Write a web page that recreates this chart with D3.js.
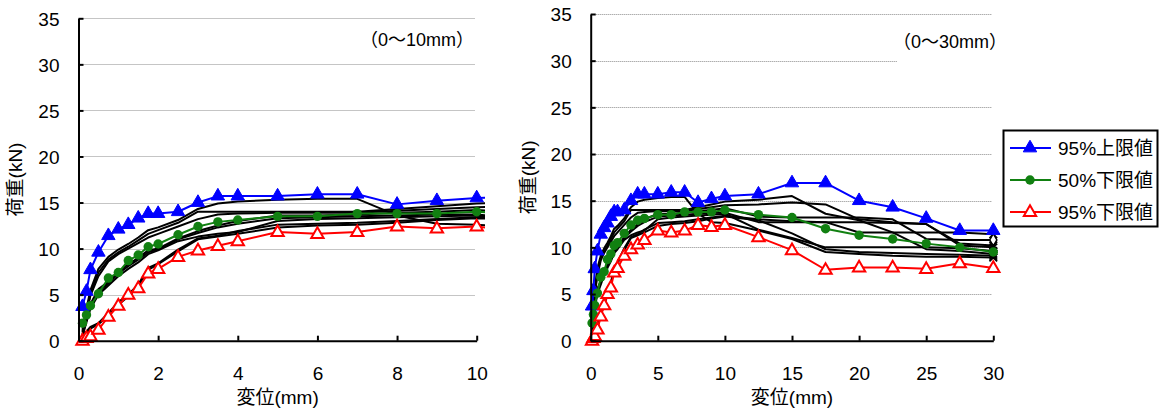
<!DOCTYPE html>
<html>
<head>
<meta charset="utf-8">
<script src="https://cdn.jsdelivr.net/npm/d3@7"></script>
<style>
  html, body { margin: 0; padding: 0; background: #fff; }
  svg { display: block; }
  text { font-family: "Liberation Sans", Arial, "Noto Sans CJK JP", sans-serif; fill: #000; }
  .cjk { font-family: "Liberation Sans", "Noto Sans CJK JP", sans-serif; }
</style>
</head>
<body>
<svg id="chart" width="1160" height="410"></svg>
<script>
// ---------------- data ----------------
const disp = [0.1, 0.2, 0.3, 0.5, 0.75, 1, 1.25, 1.5, 1.75, 2, 2.5, 3, 3.5, 4, 5, 6, 7, 8, 9, 10, 12.5, 15, 17.5, 20, 22.5, 25, 27.5, 30];

const upper95 = [3.7, 5.35, 7.7, 9.6, 11.4, 12.1, 12.6, 13.3, 13.8, 13.8, 14.0, 15.0, 15.7, 15.7, 15.7, 15.9, 15.9, 14.8, 15.2, 15.5, 15.7, 16.9, 16.9, 15.0, 14.3, 13.1, 11.8, 11.8];
const lower50 = [1.9, 2.8, 3.8, 5.1, 6.8, 7.4, 8.7, 9.3, 10.2, 10.5, 11.5, 12.4, 12.9, 13.1, 13.5, 13.5, 13.8, 13.8, 13.8, 14.0, 13.5, 13.2, 12.0, 11.3, 10.9, 10.4, 10.0, 9.5];
const lower95 = [0, 0.3, 0.5, 1.2, 2.6, 3.8, 5.0, 5.7, 7.3, 7.8, 9.1, 9.8, 10.3, 10.8, 11.8, 11.6, 11.8, 12.4, 12.2, 12.4, 11.1, 9.7, 7.6, 7.85, 7.85, 7.7, 8.3, 7.8];

const spec1 = [1.2, 3.5, 5.5, 7.8, 9.1, 9.9, 10.5, 11.2, 12.0, 12.3, 13.1, 14.3, 14.9, 15.1, 15.3, 15.4, 15.4, 13.6, 12.7, 12.6, 11.8, 10.9, 9.5, 9.3, 9.1, 9.0, 9.0, 8.9];
const spec2 = [1.0, 3.1, 5.1, 7.4, 8.8, 9.6, 10.2, 10.9, 11.6, 12.0, 12.8, 14.0, 14.0, 14.0, 14.0, 14.0, 14.0, 14.3, 14.6, 14.9, 15.1, 15.5, 13.6, 12.9, 11.6, 11.6, 11.6, 11.4];
const spec3 = [0.9, 2.9, 4.9, 7.0, 8.6, 9.4, 10.0, 10.6, 11.2, 11.6, 12.4, 13.2, 13.7, 13.8, 13.9, 13.9, 13.9, 14.1, 14.3, 14.5, 14.6, 14.8, 14.6, 13.0, 12.7, 12.5, 10.2, 10.0];
const spec4 = [0.7, 2.5, 4.0, 5.6, 6.4, 7.5, 8.3, 9.0, 9.8, 10.0, 11.1, 11.9, 12.5, 13.0, 13.6, 13.6, 13.7, 13.9, 14.0, 14.2, 13.3, 13.2, 13.2, 13.2, 13.0, 10.9, 10.8, 10.8];
const spec5 = [0.6, 2.2, 3.7, 5.3, 6.2, 7.3, 8.1, 8.8, 9.6, 9.9, 11.0, 11.7, 12.3, 12.7, 13.3, 13.4, 13.5, 13.6, 13.7, 13.7, 12.7, 12.7, 12.7, 12.7, 12.6, 12.5, 10.4, 10.2];
const spec6 = [0.5, 2.0, 3.5, 5.0, 6.0, 7.0, 7.8, 8.5, 9.4, 9.8, 10.8, 11.3, 11.6, 11.8, 13.0, 13.2, 13.3, 13.4, 13.5, 13.6, 11.9, 11.0, 10.0, 10.0, 10.0, 10.0, 9.9, 9.6];
const spec7 = [0.6, 1.0, 1.5, 1.9, 3.0, 4.2, 5.0, 6.1, 7.9, 8.4, 9.9, 11.1, 11.4, 11.9, 12.6, 12.7, 12.8, 13.0, 13.2, 13.4, 13.0, 12.8, 12.7, 11.6, 11.6, 9.8, 9.6, 9.3];
const spec8 = [0.3, 0.8, 1.3, 1.8, 2.7, 3.9, 4.8, 5.9, 7.7, 8.3, 9.7, 11.0, 11.3, 11.6, 12.3, 12.5, 12.6, 12.8, 13.1, 13.3, 12.9, 11.5, 9.8, 9.5, 9.4, 9.3, 9.2, 9.1];

const specimens = [spec1, spec2, spec3, spec4, spec5, spec6, spec7, spec8];
const specEndMarks = ["x", "x", "x", "d", "x", "x", "x", "x"];

const seriesNames = ["95%上限値", "50%下限値", "95%下限値"];
const yTicks = [0, 5, 10, 15, 20, 25, 30, 35];
const xTicksLeft = [0, 2, 4, 6, 8, 10];
const xTicksRight = [0, 5, 10, 15, 20, 25, 30];
const yTitle = "荷重(kN)";
const xTitle = "変位(mm)";
const rangeLeft = "（0～10mm）";
const rangeRight = "（0～30mm）";

// ---------------- drawing ----------------
const svg = d3.select("#chart");

const series = [
  { name: seriesNames[0], values: upper95, color: "#0000ff", mark: "triFill" },
  { name: seriesNames[1], values: lower50, color: "#118011", mark: "circle" },
  { name: seriesNames[2], values: lower95, color: "#ff0000", mark: "triOpen" }
];

function drawMarker(g, type, x, y, color) {
  if (type === "triFill") {
    g.append("path").attr("d", d3.symbol(d3.symbolTriangle, 78)())
      .attr("transform", `translate(${x},${y})`).attr("fill", color).attr("stroke", color).attr("stroke-width", 1);
  } else if (type === "triOpen") {
    g.append("path").attr("d", d3.symbol(d3.symbolTriangle, 66)())
      .attr("transform", `translate(${x},${y + 0.5})`).attr("fill", "#fff").attr("stroke", color).attr("stroke-width", 2);
  } else if (type === "circle") {
    g.append("circle").attr("cx", x).attr("cy", y).attr("r", 4.7).attr("fill", color);
  }
}

function drawChart(cfg) {
  const x = d3.scaleLinear().domain([0, cfg.xMax]).range([cfg.x0, cfg.x1]);
  const y = d3.scaleLinear().domain([0, 35]).range([cfg.y0, cfg.y1]);
  const g = svg.append("g");

  // gridlines
  g.selectAll(".grid").data(yTicks.filter(d => d > 0)).enter().append("line")
    .attr("x1", cfg.x0 + 1).attr("x2", cfg.gridRight)
    .attr("y1", d => Math.round(y(d)) + 0.5).attr("y2", d => Math.round(y(d)) + 0.5)
    .attr("stroke", "#8a8a8a").attr("stroke-width", 1).attr("stroke-dasharray", "1,1");

  // range label box
  g.append("rect").attr("x", cfg.boxX).attr("y", cfg.boxY).attr("width", cfg.boxW).attr("height", cfg.boxH).attr("fill", "#fff");
  g.append("text").attr("class", "cjk").attr("x", cfg.labelX).attr("y", cfg.labelY)
    .attr("text-anchor", "middle").attr("dominant-baseline", "central")
    .attr("font-size", 18).text(cfg.label);

  const clipId = "clip" + cfg.xMax;
  svg.append("clipPath").attr("id", clipId).append("rect")
    .attr("x", cfg.x0 - 10).attr("y", 0).attr("width", cfg.clipRight - cfg.x0 + 10).attr("height", 360);

  const plot = g.append("g").attr("clip-path", `url(#${clipId})`);
  const line = d3.line().x(d => x(d[0])).y(d => y(d[1]));

  // specimen lines
  specimens.forEach((s, i) => {
    const pts = disp.map((d, j) => [d, s[j]]);
    plot.append("path").attr("d", line(pts)).attr("fill", "none")
      .attr("stroke", "#000").attr("stroke-width", 2).attr("stroke-linejoin", "round");
  });
  if (cfg.endMarks) {
    specimens.forEach((s, i) => {
      const px = x(disp[disp.length - 1]), py = y(s[s.length - 1]);
      if (specEndMarks[i] === "d") {
        plot.append("path").attr("d", d3.symbol(d3.symbolDiamond, 44)())
          .attr("transform", `translate(${px},${py})`).attr("fill", "#fff").attr("stroke", "#000").attr("stroke-width", 1.5);
      } else {
        plot.append("path").attr("d", d3.symbol(d3.symbolX, 40)())
          .attr("transform", `translate(${px},${py})`).attr("fill", "none").attr("stroke", "#000").attr("stroke-width", 1.8);
      }
    });
  }

  // statistic series
  series.forEach(s => {
    const pts = disp.map((d, j) => [d, s.values[j]]);
    plot.append("path").attr("d", line(pts)).attr("fill", "none")
      .attr("stroke", s.color).attr("stroke-width", 2).attr("stroke-linejoin", "round");
  });
  series.forEach(s => {
    disp.forEach((d, j) => {
      if (d <= cfg.xMax) drawMarker(g, s.mark, x(d), y(s.values[j]), s.color);
    });
  });

  // axes
  const yAxis = d3.axisLeft(y).tickValues(yTicks).tickSizeInner(-5).tickSizeOuter(0).tickPadding(19);
  const ya = g.append("g").attr("transform", `translate(${cfg.x0},0)`).call(yAxis);
  const xAxis = d3.axisBottom(x).tickValues(cfg.xTicks).tickSizeInner(-5).tickSizeOuter(0).tickPadding(26);
  const xa = g.append("g").attr("transform", `translate(0,${cfg.y0})`).call(xAxis);
  [ya, xa].forEach(a => {
    a.selectAll("path, line").attr("stroke", "#000").attr("stroke-width", 2);
    a.selectAll("text").attr("font-size", 19).attr("font-family", "Liberation Sans, Arial, sans-serif").attr("fill", "#000");
  });
  ya.selectAll("text").attr("dy", "0.36em");

  // titles
  g.append("text").attr("class", "cjk").attr("x", (cfg.x0 + cfg.x1) / 2).attr("y", 397)
    .attr("text-anchor", "middle").attr("dominant-baseline", "central").attr("font-size", 19).text(xTitle);
  g.append("text").attr("class", "cjk")
    .attr("transform", `translate(${cfg.yTitleX},${(cfg.y0 + cfg.y1) / 2}) rotate(-90)`)
    .attr("text-anchor", "middle").attr("dominant-baseline", "central").attr("font-size", 19).text(yTitle);
}

drawChart({ xMax: 10, x0: 78.5, x1: 476.7, y0: 340.7, y1: 18.3, gridRight: 475, clipRight: 485,
  xTicks: xTicksLeft, yTitleX: 15, label: rangeLeft, labelX: 417, labelY: 40,
  boxX: 362, boxY: 26, boxW: 112, boxH: 28, endMarks: false });

drawChart({ xMax: 30, x0: 590.7, x1: 993.3, y0: 340.7, y1: 14, gridRight: 992, clipRight: 998,
  xTicks: xTicksRight, yTitleX: 528, label: rangeRight, labelX: 950, labelY: 42,
  boxX: 897, boxY: 24, boxW: 106, boxH: 42, endMarks: true });

// legend
const leg = svg.append("g");
leg.append("rect").attr("x", 1003.5).attr("y", 130.5).attr("width", 154).attr("height", 96)
  .attr("fill", "#fff").attr("stroke", "#000").attr("stroke-width", 2);
const legY = [148, 180, 212];
series.forEach((s, i) => {
  leg.append("line").attr("x1", 1010).attr("x2", 1051).attr("y1", legY[i]).attr("y2", legY[i])
    .attr("stroke", s.color).attr("stroke-width", 2);
  drawMarker(leg, s.mark, 1030, legY[i], s.color);
  leg.append("text").attr("class", "cjk").attr("x", 1058).attr("y", legY[i])
    .attr("dominant-baseline", "central").attr("font-size", 19).text(s.name);
});
</script>
</body>
</html>
